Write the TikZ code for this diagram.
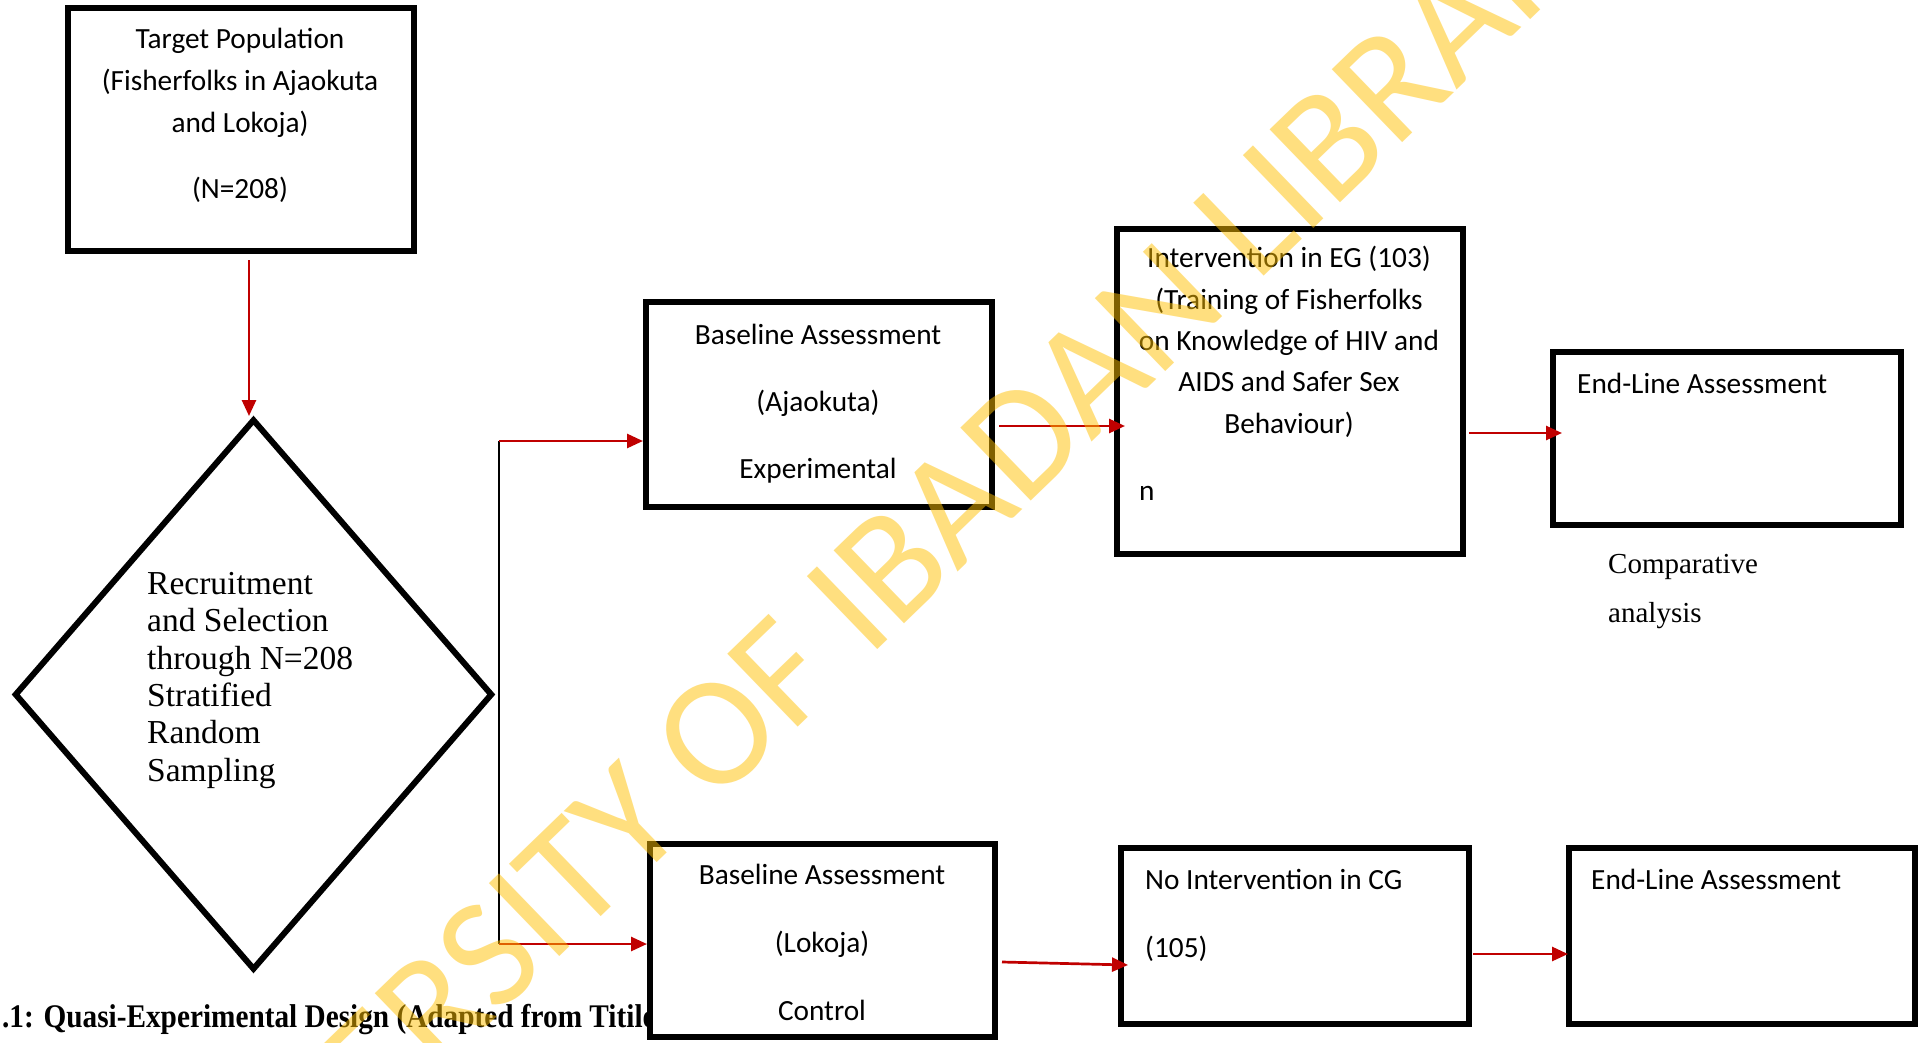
\documentclass[tikz,border=0pt]{standalone}
\usepackage{fontspec}
\setmainfont{Carlito}
\newfontfamily\romanface{Liberation Serif}
\usetikzlibrary{arrows.meta,shapes.geometric,calc}
\definecolor{arrred}{HTML}{C00000}
\definecolor{wmyellow}{HTML}{FFC000}

\begin{document}
\begin{tikzpicture}[x=1pt,y=-1pt,
  boxframe/.style={draw, rectangle, line width=6pt, fill=white, inner sep=0pt},
  bt/.style={font=\fontsize{29.3}{35}\selectfont, inner sep=0pt, anchor=base},
  btl/.style={bt, anchor=base west},
  dt/.style={font=\romanface\fontsize{33.5}{37}\selectfont, inner sep=0pt, anchor=base west},
  rt/.style={font=\romanface\fontsize{29}{33}\selectfont, inner sep=0pt, anchor=base west},
  redarr/.style={draw=arrred, line width=2.7pt, -{Triangle[length=16pt,width=14pt]}},
  joinline/.style={draw=black, line width=1.6pt}
]
\useasboundingbox (0,0) rectangle (1923,1042);
\fill[white] (0,0) rectangle (1923,1042);

% caption, partly hidden behind the lower baseline box
\node[font=\romanface\bfseries\fontsize{33}{36}\selectfont, inner sep=0pt,
      anchor=base west, xscale=0.887, transform shape] (cap) at (2,1027)
  {.1: Quasi-Experimental Design (Adapted from Titilo};

% boxes
\node[boxframe, minimum width=346pt, minimum height=243pt] (T)  at (241,129.5) {};
\node[boxframe, minimum width=346pt, minimum height=205pt] (B1) at (819,404.5) {};
\node[boxframe, minimum width=346pt, minimum height=325pt] (I1) at (1290,391.5) {};
\node[boxframe, minimum width=348pt, minimum height=173pt] (E1) at (1727,438.5) {};
\node[boxframe, minimum width=345pt, minimum height=193pt] (B2) at (822.5,940.5) {};
\node[boxframe, minimum width=348pt, minimum height=176pt] (N2) at (1295,936) {};
\node[boxframe, minimum width=346pt, minimum height=176pt] (E2) at (1742,936) {};
\node[draw, diamond, line width=6pt, inner sep=0pt,
      minimum width=478pt, minimum height=551pt] (dia) at (253.5,694.5) {};

% connectors
\coordinate (tx) at (249,0);
\draw[redarr] (T.south -| tx) ++(0,6) -- (tx |- dia.north);
\coordinate (j1) at (499,441);
\coordinate (j2) at (499,944);
\draw[joinline] (j1) -- (j2);
\draw[redarr] (j1) -- (j1 -| B1.west);
\draw[redarr] (j2) -- (j2 -| B2.west);
\draw[redarr] (B1.east |- 0,426) ++(4,0) -- ($(I1.west |- 0,426)+(11,0)$);
\draw[redarr] (I1.east |- 0,433) ++(3,0) -- ($(E1.west |- 0,433)+(12,0)$);
\draw[redarr] (B2.east |- 0,962) ++(4,0) -- ($(N2.west |- 0,965)+(10,0)$);
\draw[redarr] (N2.east |- 0,954) ++(1,0) -- ($(E2.west |- 0,954)+(2,0)$);

% texts
\node[bt] (t1) at (240,48)  {Target Population};
\node[bt] (t2) at (240,90)  {(Fisherfolks in Ajaokuta};
\node[bt] (t3) at (240,132) {and Lokoja)};
\node[bt] (t4) at (240,198) {(N=208)};

\node[dt] (d1) at (147,594)   {Recruitment};
\node[dt] (d2) at (147,631.5) {and Selection};
\node[dt] (d3) at (147,669)   {through N=208};
\node[dt] (d4) at (147,706)   {Stratified};
\node[dt] (d5) at (147,743.5) {Random};
\node[dt] (d6) at (147,781)   {Sampling};

\node[bt] (b1a) at (818,344) {Baseline Assessment};
\node[bt] (b1b) at (818,411) {(Ajaokuta)};
\node[bt] (b1c) at (818,478) {Experimental};

\node[bt] (i1a) at (1289,267) {Intervention in EG (103)};
\node[bt] (i1b) at (1289,309) {(Training of Fisherfolks};
\node[bt] (i1c) at (1289,350) {on Knowledge of HIV and};
\node[bt] (i1d) at (1289,391) {AIDS and Safer Sex};
\node[bt] (i1e) at (1289,433) {Behaviour)};
\node[btl] (i1n) at (1139,500) {n};

\node[btl] (e1a) at (1577,393) {End-Line Assessment};
\node[rt] (ca1) at (1608,573) {Comparative};
\node[rt] (ca2) at (1608,622) {analysis};

\node[bt] (b2a) at (822,884)  {Baseline Assessment};
\node[bt] (b2b) at (822,952)  {(Lokoja)};
\node[bt] (b2c) at (822,1020) {Control};

\node[btl] (n2a) at (1145,889) {No Intervention in CG};
\node[btl] (n2b) at (1145,957) {(105)};

\node[btl] (e2a) at (1591,889) {End-Line Assessment};

% library watermark
\node[font=\fontsize{158}{160}\selectfont, text=wmyellow,
      text opacity=0.5, inner sep=0pt, rotate=44] (wm) at (855,601)
  {UNIVERSITY OF IBADAN LIBRARY};
\end{tikzpicture}
\end{document}
